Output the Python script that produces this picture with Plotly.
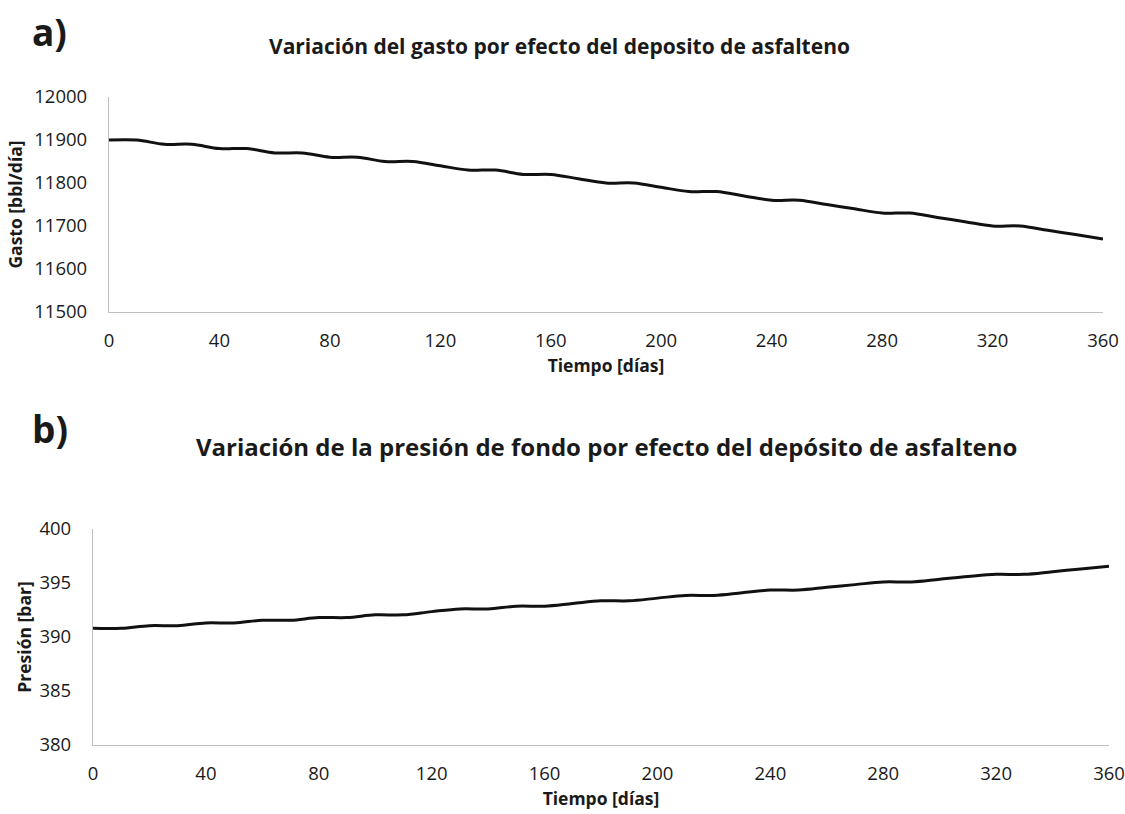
import plotly.graph_objects as go

# datos (cada 10 dias)
dias = [0, 10, 20, 30, 40, 50, 60, 70, 80, 90, 100, 110, 120, 130, 140, 150, 160, 170, 180,
        190, 200, 210, 220, 230, 240, 250, 260, 270, 280, 290, 300, 310, 320, 330, 340, 350, 360]
gasto = [11900, 11900, 11890, 11890, 11880, 11880, 11870, 11870, 11860, 11860, 11850, 11850,
         11840, 11830, 11830, 11820, 11820, 11810, 11800, 11800, 11790, 11780, 11780, 11770,
         11760, 11760, 11750, 11740, 11730, 11730, 11720, 11710, 11700, 11700, 11690, 11680, 11670]
presion = [390.8, 390.8, 391.05, 391.05, 391.3, 391.3, 391.55, 391.55, 391.8, 391.8, 392.05, 392.05,
           392.35, 392.6, 392.6, 392.85, 392.85, 393.1, 393.35, 393.35, 393.6, 393.85, 393.85, 394.1,
           394.35, 394.35, 394.6, 394.85, 395.1, 395.1, 395.35, 395.6, 395.8, 395.8, 396.05, 396.3, 396.55]
x_ticks = [0, 40, 80, 120, 160, 200, 240, 280, 320, 360]

W, H = 1125, 814
FONT = "Open Sans"
TXT = "#1a1a1a"

def px_x(p):
    return p / W

def px_y(p):
    return 1 - p / H

fig = go.Figure()
fig.add_trace(go.Scatter(x=dias, y=gasto, mode='lines', line=dict(color='#111111', width=3, shape='spline'),
                         xaxis='x', yaxis='y', showlegend=False))
fig.add_trace(go.Scatter(x=dias, y=presion, mode='lines', line=dict(color='#111111', width=3, shape='spline'),
                         xaxis='x2', yaxis='y2', showlegend=False))

axis_common = dict(showgrid=False, zeroline=False, showline=True, linecolor='#bfbfbf', linewidth=1.3,
                   automargin=False, tickformat='d',
                   ticks='outside', tickcolor='rgba(0,0,0,0)', tickfont=dict(family=FONT, size=18.5, color=TXT))
title_font = dict(family=FONT, size=17.5, color=TXT)

fig.update_layout(
    width=W, height=H,
    margin=dict(l=0, r=0, t=0, b=0),
    paper_bgcolor='white', plot_bgcolor='white',
    font=dict(family=FONT, color=TXT),
    xaxis=dict(axis_common, domain=[px_x(109), px_x(1103)], range=[0, 360], tickvals=x_ticks, ticklen=12,
               anchor='y',
               title=dict(text='<b>Tiempo [días]</b>', font=title_font, standoff=8)),
    yaxis=dict(axis_common, domain=[px_y(312), px_y(97)], range=[11500, 12000], dtick=100, ticklen=17,
               anchor='x',
               title=dict(text='<b>Gasto [bbl/día]</b>', font=title_font, standoff=7)),
    xaxis2=dict(axis_common, domain=[px_x(93), px_x(1109)], range=[0, 360], tickvals=x_ticks, ticklen=12,
                anchor='y2',
                title=dict(text='<b>Tiempo [días]</b>', font=title_font, standoff=8)),
    yaxis2=dict(axis_common, domain=[px_y(745), px_y(529)], range=[380, 400], dtick=5, ticklen=17,
                anchor='x2',
                title=dict(text='<b>Presión [bar]</b>', font=title_font, standoff=3)),
)

fig.add_annotation(text='<b>a)</b>', x=px_x(30), y=px_y(32), xref='paper', yref='paper',
                   xanchor='left', yanchor='middle', showarrow=False, font=dict(size=37, family=FONT))
fig.add_annotation(text='<b>b)</b>', x=px_x(30), y=px_y(429), xref='paper', yref='paper',
                   xanchor='left', yanchor='middle', showarrow=False, font=dict(size=37, family=FONT))
fig.add_annotation(text='<b>Variación del gasto por efecto del deposito de asfalteno</b>',
                   x=px_x(559), y=px_y(46), xref='paper', yref='paper', xanchor='center', yanchor='middle',
                   showarrow=False, font=dict(size=21, family=FONT))
fig.add_annotation(text='<b>Variación de la presión de fondo por efecto del depósito de asfalteno</b>',
                   x=px_x(606), y=px_y(447), xref='paper', yref='paper', xanchor='center', yanchor='middle',
                   showarrow=False, font=dict(size=24, family=FONT))

# sin el margen de 8 px del body, el grafico ocupa justo la ventana
fig.write_html("out.html", config={'displayModeBar': False},
               post_script="document.body.style.margin = '0';")
